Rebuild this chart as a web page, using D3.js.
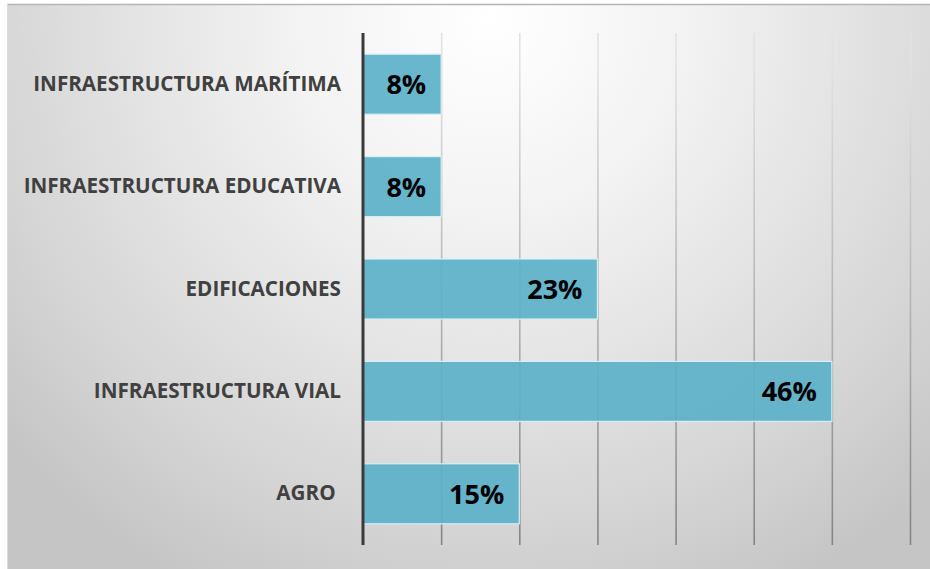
<!DOCTYPE html>
<html><head><meta charset="utf-8">
<script src="https://cdn.jsdelivr.net/npm/d3@7"></script>
<style>html,body{margin:0;padding:0;background:#fff;} svg{display:block;}</style>
</head><body>
<svg id="chart" width="930" height="569"></svg>
<script>
const categories = ["INFRAESTRUCTURA MARÍTIMA","INFRAESTRUCTURA EDUCATIVA","EDIFICACIONES","INFRAESTRUCTURA VIAL","AGRO "];
const counts = [1,1,3,6,2];
const valueLabels = ["8%","8%","23%","46%","15%"];
const xTicks = [1,2,3,4,5,6,7];

const svg = d3.select("#chart");
const W = 930, H = 569;
const defs = svg.append("defs");
const rg = defs.append("radialGradient").attr("id","bg").attr("gradientUnits","userSpaceOnUse")
  .attr("cx",490).attr("cy",20).attr("r",640);
[[0,"#ffffff"],[0.3,"#f3f3f3"],[0.55,"#e4e4e4"],[0.8,"#d4d4d4"],[1,"#c5c5c5"]]
  .forEach(([o,c])=>rg.append("stop").attr("offset",o).attr("stop-color",c));
const gg = defs.append("linearGradient").attr("id","grid").attr("gradientUnits","userSpaceOnUse")
  .attr("x1",0).attr("y1",33).attr("x2",0).attr("y2",545);
[[0,"#e2e2e2"],[0.5,"#b0b0b0"],[1,"#7e7e7e"]].forEach(([o,c])=>gg.append("stop").attr("offset",o).attr("stop-color",c));

svg.append("rect").attr("x",7).attr("y",4).attr("width",W).attr("height",H).attr("fill","url(#bg)");
svg.append("line").attr("x1",7).attr("x2",W).attr("y1",4.5).attr("y2",4.5).attr("stroke","#b4b4b4").attr("stroke-width",1.5);
svg.append("line").attr("x1",7.5).attr("x2",7.5).attr("y1",4).attr("y2",H).attr("stroke","#dcdcdc").attr("stroke-width",1);

const margin = {left:363, top:33};
const x = d3.scaleLinear().domain([0,7]).range([margin.left, 910]);
const y = d3.scaleBand().domain(categories).range([margin.top, 545]).paddingInner(0.414).paddingOuter(0.207);

// gridlines via axis
const gridAxis = d3.axisTop(x).tickValues(xTicks).tickSize(-(545-margin.top)).tickFormat("");
const gridG = svg.append("g").attr("transform",`translate(0,${margin.top})`).call(gridAxis);
gridG.select(".domain").remove();
gridG.selectAll(".tick line").attr("stroke","url(#grid)").attr("stroke-width",1.6);

// bars
svg.append("g").selectAll("rect").data(categories).join("rect")
  .attr("x", x(0)).attr("y", d=>y(d))
  .attr("width", (d,i)=>x(counts[i])-x(0)).attr("height", y.bandwidth())
  .attr("fill","#5cb1c9").attr("fill-opacity",0.92)
  .attr("stroke","#d6eef4").attr("stroke-width",1.2);

// value labels
svg.append("g").selectAll("text").data(categories).join("text")
  .attr("x",(d,i)=>x(counts[i])-15).attr("y",d=>y(d)+y.bandwidth()/2)
  .attr("dy","0.37em").attr("text-anchor","end")
  .attr("font-family","'Open Sans', sans-serif").attr("font-weight","bold")
  .attr("font-size",27).attr("fill","#000")
  .text((d,i)=>valueLabels[i]);

// category axis
const yAxis = d3.axisLeft(y).tickSize(0).tickPadding(22);
const yG = svg.append("g").attr("transform",`translate(${margin.left},0)`).call(yAxis);
yG.select(".domain").remove();
yG.selectAll("text").attr("font-family","'Open Sans', sans-serif").attr("font-weight","bold")
  .attr("font-size",17.5).attr("fill","#404040").style("white-space","pre");

const longest = yG.selectAll("text").nodes()[0];
const w = longest.getComputedTextLength();
yG.selectAll("text").attr("font-size", 17.5 * 308 / w);

// axis line
svg.append("line").attr("x1",x(0)).attr("x2",x(0)).attr("y1",margin.top).attr("y2",545)
  .attr("stroke","#3a3a3a").attr("stroke-width",3);
</script>
</body></html>
